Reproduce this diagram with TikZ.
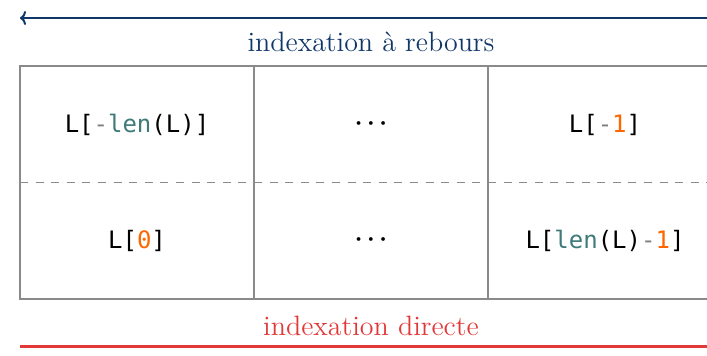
\documentclass[tikz,border=0pt]{standalone}
\usepackage{fontspec}
\newfontfamily\codefont{DejaVu Sans Mono}
\usetikzlibrary{positioning,arrows,arrows.meta}
\usepackage{xcolor}
\definecolor{backblue}{RGB}{16,55,104}
\definecolor{directred}{RGB}{226,56,56}
\definecolor{gridgray}{RGB}{138,138,138}
\definecolor{kwteal}{RGB}{61,122,120}
\definecolor{numorange}{RGB}{255,102,0}
\definecolor{opgray}{RGB}{128,128,128}
\newcommand{\opc}[1]{\textcolor{opgray}{#1}}
\newcommand{\kwc}[1]{\textcolor{kwteal}{#1}}
\newcommand{\numc}[1]{\textcolor{numorange}{#1}}
\tikzstyle{colbox} = [draw=gridgray, line width=0.6pt, minimum width=117pt, minimum height=116.5pt, inner sep=0pt, outer sep=0pt]
\tikzstyle{code} = [font=\codefont\fontsize{12}{14}\selectfont]
\tikzstyle{gap} = [font=\fontsize{13}{15}\selectfont\boldmath]
\tikzstyle{idxtext} = [font=\fontsize{14}{17}\selectfont]
\tikzstyle{arrow} = [line width=1pt,->,>={To[length=3pt,width=7pt]}]

\begin{document}
\begin{tikzpicture}[x=0.5pt,y=-0.5pt]
  \useasboundingbox (0,0) rectangle (707,355);

  % columns of the list
  \node[colbox] (col1) at (137,182.5) {};
  \node[colbox, right=0pt of col1] (col2) {};
  \node[colbox, right=0pt of col2] (col3) {};

  % split between the two rows
  \draw[gridgray, line width=0.6pt, dash pattern=on 4pt off 3.8pt] (col1.west) -- (col3.east);

  % negative indices
  \node[code] (neg1) at (col1 |- 0,125) {L[\opc{-}\kwc{len}(L)]};
  \node[gap] (neg2) at (col2 |- 0,124) {$\cdots$};
  \node[code] (neg3) at (col3 |- 0,125) {L[\opc{-}\numc{1}]};

  % positive indices
  \node[code] (pos1) at (col1 |- 0,241) {L[\numc{0}]};
  \node[gap] (pos2) at (col2 |- 0,240) {$\cdots$};
  \node[code] (pos3) at (col3 |- 0,241) {L[\kwc{len}(L)\opc{-}\numc{1}]};

  % backward indexing
  \coordinate (backstart) at (col3.east |- 0,18);
  \coordinate (backend) at (col1.west |- 0,18);
  \draw[arrow, backblue] (backstart) -- (backend);
  \node[idxtext, text=backblue] (backlbl) at (371,42) {indexation à rebours};

  % forward indexing
  \coordinate (directstart) at (col1.west |- 0,346);
  \coordinate (directend) at (col3.east |- 0,346);
  \draw[arrow, directred, line width=1.5pt] (directstart) -- (directend);
  \node[idxtext, text=directred] (directlbl) at (371,326) {indexation directe};
\end{tikzpicture}
\end{document}
